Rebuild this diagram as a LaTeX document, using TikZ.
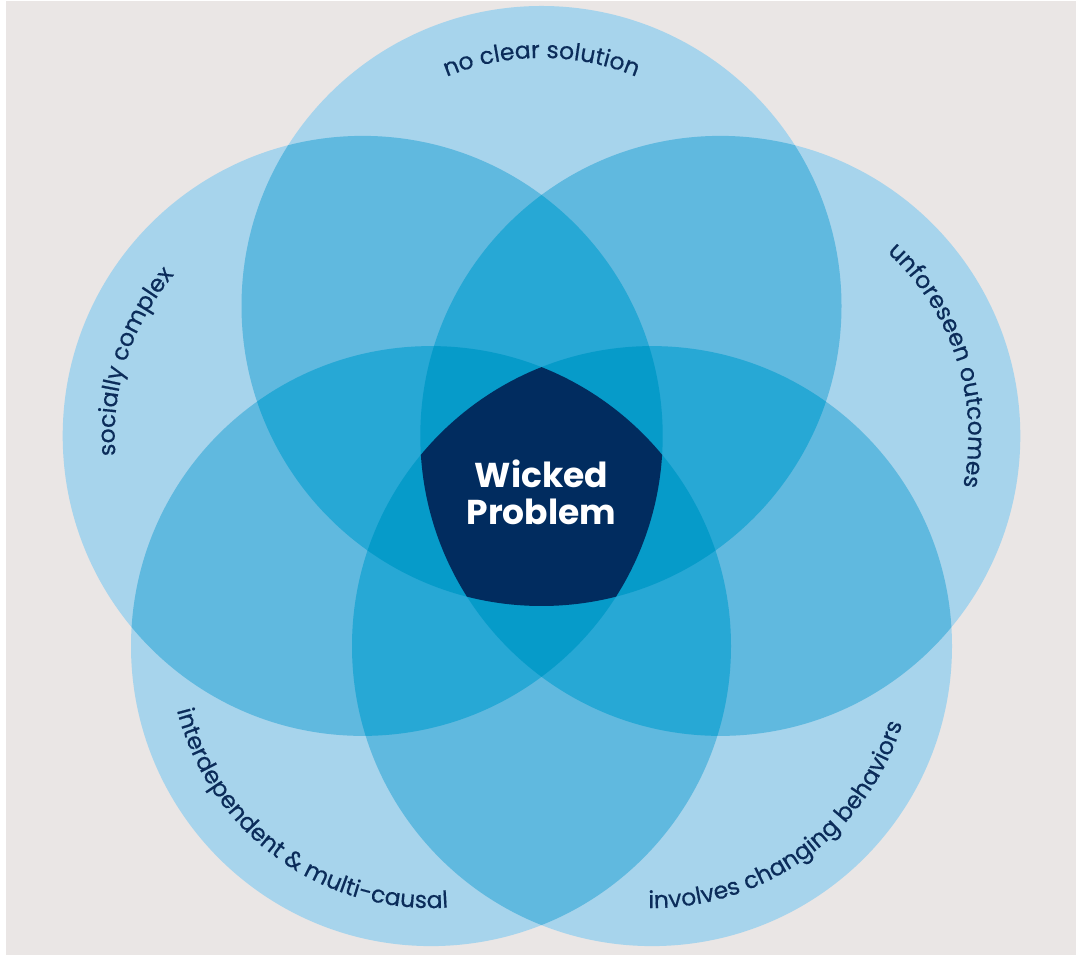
\documentclass[tikz,border=0pt]{standalone}
\usepackage{fontspec}
\setmainfont{Poppins}
\newfontfamily\lblfam[FakeBold=0.5]{Poppins}
\usetikzlibrary{decorations.text}
\definecolor{bgc}{HTML}{EAE6E5}
\definecolor{lvlone}{HTML}{A7D4EC}
\definecolor{lvltwo}{HTML}{60B9DF}
\definecolor{lvlthree}{HTML}{27A8D5}
\definecolor{lvlfour}{HTML}{069BC9}
\definecolor{lvlfive}{HTML}{012C5F}
\definecolor{labelcol}{HTML}{0B2C5A}
\tikzset{
  cwlabel/.style={decorate, decoration={text along path, text align=center, text color=labelcol, text={#1}}},
}
\begin{document}
\begin{tikzpicture}[x=1pt,y=1pt]
\useasboundingbox (0,0) rectangle (1076,955);
\fill[white] (0,0) rectangle (1076,955);
\fill[bgc] (6,0) rectangle (1076,954);
\coordinate (c1) at (541.5,649);
\coordinate (c2) at (362.7,519.1);
\coordinate (c3) at (720.3,519.1);
\coordinate (c4) at (431,308.9);
\coordinate (c5) at (652,308.9);
\foreach \i in {1,...,5} \fill[lvlone] (c\i) circle[radius=300];
\foreach \pa/\pb in {1/2,1/3,1/4,1/5,2/3,2/4,2/5,3/4,3/5,4/5}{
  \begin{scope}
    \clip (c\pa) circle[radius=300];
    \fill[lvltwo] (c\pb) circle[radius=300];
  \end{scope}
}
\foreach \pa/\pb/\pc in {1/2/3,1/2/4,1/2/5,1/3/4,1/3/5,1/4/5,2/3/4,2/3/5,2/4/5,3/4/5}{
  \begin{scope}
    \clip (c\pa) circle[radius=300];
    \clip (c\pb) circle[radius=300];
    \fill[lvlthree] (c\pc) circle[radius=300];
  \end{scope}
}
\foreach \pa/\pb/\pc/\pd in {1/2/3/4,1/2/3/5,1/2/4/5,1/3/4/5,2/3/4/5}{
  \begin{scope}
    \clip (c\pa) circle[radius=300];
    \clip (c\pb) circle[radius=300];
    \clip (c\pc) circle[radius=300];
    \fill[lvlfour] (c\pd) circle[radius=300];
  \end{scope}
}
\begin{scope}
  \clip (c1) circle[radius=300];
  \clip (c2) circle[radius=300];
  \clip (c3) circle[radius=300];
  \clip (c4) circle[radius=300];
  \fill[lvlfive] (c5) circle[radius=300];
\end{scope}
\node[font=\bfseries\fontsize{34.5}{37}\selectfont, text=white, align=center] (wp) at (541.5,463) {Wicked\\Problem};
\begingroup
\lblfam\fontsize{23.5}{27}\selectfont
\path[cwlabel={no clear solution}] (c1) ++(160:248) arc[start angle=160, end angle=20, radius=248];
\path[cwlabel={socially complex}] (c2) ++(232:248) arc[start angle=232, end angle=92, radius=248];
\path[cwlabel={unforeseen outcomes}] (c3) ++(88:248) arc[start angle=88, end angle=-52, radius=248];
\path[cwlabel={interdependent {\&} multi-causal}] (c4) ++(159:262) arc[start angle=159, end angle=309, radius=262];
\path[cwlabel={involves changing behaviors}] (c5) ++(231:262) arc[start angle=231, end angle=381, radius=262];
\endgroup
\end{tikzpicture}
\end{document}
